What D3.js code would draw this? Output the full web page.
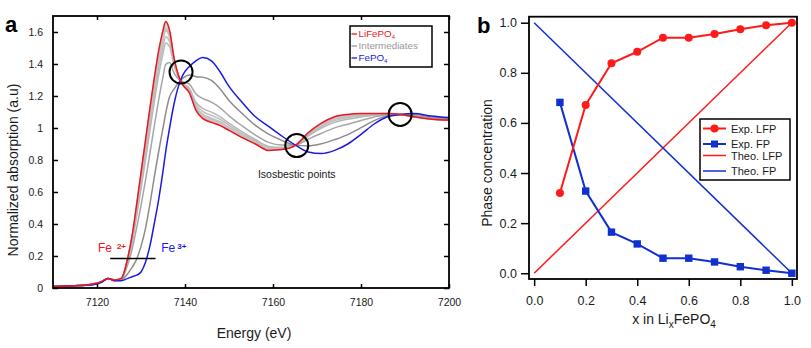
<!DOCTYPE html>
<html>
<head>
<meta charset="utf-8">
<script src="https://cdn.jsdelivr.net/npm/d3@7"></script>
<style>
  body { margin: 0; background: #fff; }
  svg { display: block; font-family: "Liberation Sans", Arial, Helvetica, sans-serif; }
</style>
</head>
<body>
<div id="chart"></div>
<script>
// ---- panel a : XANES spectra ----
const energy = [7110, 7116, 7119, 7121, 7122.5, 7124, 7125.5, 7127, 7128, 7129, 7130, 7131, 7132, 7133, 7134, 7135, 7135.6,
  7136.5, 7137.5, 7138.5, 7139.5, 7141, 7142.5, 7144, 7146, 7148, 7150, 7153, 7156, 7159, 7162, 7165, 7168, 7171, 7174,
  7177, 7180, 7183, 7186, 7189, 7192, 7196, 7200];

const lfpSpectrum = [0.01, 0.015, 0.025, 0.04, 0.06, 0.05, 0.06, 0.19, 0.33, 0.52, 0.72, 0.92, 1.12, 1.31, 1.48, 1.61, 1.665,
  1.61, 1.44, 1.33, 1.27, 1.22, 1.11, 1.06, 1.035, 1.015, 0.985, 0.94, 0.90, 0.86, 0.865, 0.89, 0.97, 1.03, 1.07,
  1.085, 1.09, 1.09, 1.09, 1.085, 1.07, 1.055, 1.05];

const fpSpectrum = [0.01, 0.015, 0.02, 0.035, 0.06, 0.045, 0.045, 0.06, 0.07, 0.08, 0.10, 0.16, 0.26, 0.40, 0.55, 0.73, 0.85,
  1.00, 1.15, 1.26, 1.33, 1.385, 1.42, 1.44, 1.42, 1.35, 1.26, 1.16, 1.07, 1.01, 0.95, 0.895, 0.85, 0.84, 0.86,
  0.90, 0.96, 1.025, 1.07, 1.085, 1.09, 1.075, 1.065];

// intermediates, from almost-LFP to almost-FP
const inter1 = [0.01, 0.015, 0.025, 0.04, 0.06, 0.05, 0.06, 0.189, 0.327, 0.516, 0.714, 0.912, 1.111, 1.301, 1.471, 1.601, 1.657,
  1.604, 1.437, 1.329, 1.271, 1.222, 1.113, 1.064, 1.039, 1.018, 0.988, 0.942, 0.902, 0.862, 0.866, 0.89, 0.969, 1.028, 1.068,
  1.083, 1.089, 1.089, 1.09, 1.085, 1.07, 1.055, 1.05];
const inter2 = [0.01, 0.015, 0.025, 0.04, 0.06, 0.05, 0.06, 0.187, 0.324, 0.509, 0.705, 0.901, 1.099, 1.287, 1.457, 1.588, 1.645,
  1.595, 1.433, 1.328, 1.272, 1.224, 1.118, 1.07, 1.045, 1.023, 0.992, 0.946, 0.904, 0.864, 0.867, 0.89, 0.967, 1.025, 1.065,
  1.08, 1.087, 1.088, 1.09, 1.085, 1.07, 1.056, 1.05];
const inter3 = [0.01, 0.015, 0.025, 0.04, 0.06, 0.05, 0.059, 0.184, 0.318, 0.50, 0.692, 0.886, 1.081, 1.269, 1.438, 1.57, 1.628,
  1.583, 1.427, 1.327, 1.273, 1.227, 1.124, 1.077, 1.052, 1.03, 0.997, 0.95, 0.908, 0.867, 0.869, 0.89, 0.965, 1.021, 1.06,
  1.077, 1.084, 1.087, 1.089, 1.085, 1.071, 1.056, 1.051];
const inter4 = [0.01, 0.015, 0.025, 0.04, 0.06, 0.05, 0.059, 0.182, 0.314, 0.494, 0.683, 0.874, 1.068, 1.255, 1.424, 1.557, 1.616,
  1.573, 1.423, 1.326, 1.274, 1.23, 1.129, 1.083, 1.058, 1.035, 1.002, 0.953, 0.91, 0.869, 0.87, 0.89, 0.963, 1.019, 1.057,
  1.074, 1.082, 1.086, 1.089, 1.085, 1.071, 1.056, 1.051];
const inter5 = [0.01, 0.015, 0.025, 0.04, 0.06, 0.05, 0.059, 0.181, 0.312, 0.489, 0.677, 0.867, 1.06, 1.246, 1.415, 1.548, 1.608,
  1.567, 1.42, 1.325, 1.274, 1.232, 1.132, 1.087, 1.062, 1.039, 1.004, 0.955, 0.912, 0.871, 0.871, 0.89, 0.962, 1.017, 1.055,
  1.072, 1.081, 1.085, 1.089, 1.085, 1.071, 1.056, 1.051];
const inter6 = [0.01, 0.015, 0.024, 0.039, 0.06, 0.049, 0.058, 0.175, 0.30, 0.469, 0.649, 0.833, 1.021, 1.205, 1.373, 1.509, 1.571,
  1.54, 1.407, 1.322, 1.277, 1.239, 1.146, 1.104, 1.079, 1.054, 1.017, 0.965, 0.92, 0.877, 0.875, 0.891, 0.956, 1.008, 1.046,
  1.064, 1.075, 1.083, 1.088, 1.085, 1.072, 1.057, 1.052];
const inter7 = [0.01, 0.015, 0.024, 0.039, 0.06, 0.049, 0.058, 0.169, 0.287, 0.447, 0.618, 0.795, 0.978, 1.16, 1.327, 1.465, 1.531,
  1.509, 1.392, 1.318, 1.28, 1.247, 1.161, 1.123, 1.099, 1.07, 1.03, 0.976, 0.928, 0.885, 0.879, 0.891, 0.95, 0.999, 1.035,
  1.055, 1.069, 1.079, 1.087, 1.085, 1.073, 1.058, 1.052];
const inter8 = [0.01, 0.015, 0.023, 0.038, 0.06, 0.048, 0.055, 0.147, 0.244, 0.375, 0.515, 0.669, 0.836, 1.01, 1.173, 1.32, 1.396,
  1.409, 1.344, 1.307, 1.29, 1.274, 1.212, 1.185, 1.162, 1.126, 1.076, 1.013, 0.956, 0.91, 0.893, 0.892, 0.93, 0.967, 1.001,
  1.024, 1.047, 1.069, 1.083, 1.085, 1.077, 1.062, 1.055];
const inter9 = [0.01, 0.015, 0.021, 0.036, 0.06, 0.046, 0.05, 0.09, 0.13, 0.18, 0.26, 0.37, 0.52, 0.69, 0.85, 1.0, 1.09,
  1.195, 1.243, 1.282, 1.311, 1.332, 1.321, 1.318, 1.297, 1.243, 1.172, 1.09, 1.016, 0.962, 0.923, 0.893, 0.888, 0.901, 0.927,
  0.959, 1.002, 1.046, 1.076, 1.085, 1.084, 1.069, 1.06];

const isosbesticE = [7139.1, 7165.4, 7188.9];
const isosbesticA = [1.35, 0.89, 1.085];
const edgeLineE = [7123, 7133.3];
const edgeLineA = 0.184;

const energyTicks = [7120, 7140, 7160, 7180, 7200];
const absTicks = [0, 0.2, 0.4, 0.6, 0.8, 1, 1.2, 1.4, 1.6];

// ---- panel b : phase concentration ----
const xLi = [0.1, 0.2, 0.3, 0.4, 0.5, 0.6, 0.7, 0.8, 0.9, 1.0];
const expLFP = [0.32, 0.672, 0.838, 0.884, 0.94, 0.94, 0.955, 0.974, 0.99, 1.0];
const expFP = [0.682, 0.328, 0.164, 0.117, 0.06, 0.06, 0.045, 0.026, 0.012, 0.0];
const theoX = [0, 1];
const theoLFP = [0, 1];
const theoFP = [1, 0];
const phaseTicks = [0, 0.2, 0.4, 0.6, 0.8, 1.0];

const RED = "#f0141e", BLUE = "#1a1ae6", BRED = "#ff1a1a", BBLUE = "#1030d0";
const INK = "#1a1a1a";

const svg = d3.select("#chart").append("svg")
  .attr("width", 811)
  .attr("height", 348);

// =========== panel a ===========
const fa = { left: 53, top: 16, right: 449, bottom: 288 };
const xa = d3.scaleLinear().domain([7110, 7200]).range([fa.left, fa.right]);
const ya = d3.scaleLinear().domain([0, 1.7]).range([fa.bottom, fa.top]);

svg.append("clipPath").attr("id", "clipA")
  .append("rect")
  .attr("x", fa.left).attr("y", fa.top)
  .attr("width", fa.right - fa.left).attr("height", fa.bottom - fa.top);

const gA = svg.append("g").attr("clip-path", "url(#clipA)");
const lineA = vals => d3.line()
  .x((d, i) => xa(energy[i]))
  .y(d => ya(d))
  .curve(d3.curveMonotoneX)(vals);

const intermediates = [
  { v: inter1, c: "#c8c8c8" }, { v: inter2, c: "#c8c8c8" }, { v: inter3, c: "#c6c6c6" },
  { v: inter4, c: "#c4c4c4" }, { v: inter5, c: "#c2c2c2" }, { v: inter6, c: "#bdbdbd" },
  { v: inter7, c: "#b8b8b8" }, { v: inter8, c: "#a6a6a6" }, { v: inter9, c: "#8c8c8c" }
];

gA.selectAll("path.inter")
  .data(intermediates)
  .enter().append("path")
  .attr("class", "inter")
  .attr("d", d => lineA(d.v))
  .attr("fill", "none")
  .attr("stroke", d => d.c)
  .attr("stroke-width", 1.5);

gA.append("path").attr("d", lineA(fpSpectrum))
  .attr("fill", "none").attr("stroke", BLUE).attr("stroke-width", 1.5);
gA.append("path").attr("d", lineA(lfpSpectrum))
  .attr("fill", "none").attr("stroke", RED).attr("stroke-width", 1.5);

// isosbestic circles
svg.selectAll("circle.iso")
  .data(isosbesticE)
  .enter().append("circle")
  .attr("class", "iso")
  .attr("cx", d => xa(d))
  .attr("cy", (d, i) => ya(isosbesticA[i]))
  .attr("r", 11.5)
  .attr("fill", "none")
  .attr("stroke", "#000")
  .attr("stroke-width", 2);

svg.append("text")
  .attr("x", xa(isosbesticE[1]))
  .attr("y", ya(0.69))
  .attr("text-anchor", "middle")
  .attr("font-size", 10.5)
  .attr("fill", INK)
  .text("Isosbestic points");

// Fe2+ / Fe3+ edge marker
svg.append("line")
  .attr("x1", xa(edgeLineE[0])).attr("x2", xa(edgeLineE[1]))
  .attr("y1", ya(edgeLineA)).attr("y2", ya(edgeLineA))
  .attr("stroke", "#000").attr("stroke-width", 1.5);

const fe2 = svg.append("text")
  .attr("x", xa(7120.2)).attr("y", ya(0.222))
  .attr("font-size", 12).attr("fill", RED);
fe2.append("tspan").text("Fe");
fe2.append("tspan").attr("dx", 5).attr("dy", -3).attr("font-size", 8).attr("font-weight", "bold").text("2+");

const fe3 = svg.append("text")
  .attr("x", xa(7134.6)).attr("y", ya(0.222))
  .attr("font-size", 12).attr("fill", BLUE);
fe3.append("tspan").text("Fe");
fe3.append("tspan").attr("dx", 2).attr("dy", -3).attr("font-size", 8).attr("font-weight", "bold").text("3+");

// frame + ticks
svg.append("rect")
  .attr("x", fa.left).attr("y", fa.top)
  .attr("width", fa.right - fa.left).attr("height", fa.bottom - fa.top)
  .attr("fill", "none").attr("stroke", "#000").attr("stroke-width", 1.8);

function styleAxis(g, size) {
  g.select(".domain").remove();
  g.selectAll(".tick line").attr("stroke", "#000").attr("stroke-width", 1.5);
  g.selectAll(".tick text").attr("fill", INK).attr("font-size", size)
    .attr("font-family", '"Liberation Sans", Arial, sans-serif');
}

svg.append("g")
  .attr("transform", `translate(0,${fa.bottom})`)
  .call(d3.axisBottom(xa).tickValues(energyTicks).tickSize(-4).tickPadding(11).tickFormat(d3.format("d")))
  .call(g => styleAxis(g, 10.5));
svg.append("g")
  .attr("transform", `translate(0,${fa.top})`)
  .call(d3.axisTop(xa).tickValues(energyTicks).tickSize(-4).tickFormat(""))
  .call(g => styleAxis(g, 10.5));
svg.append("g")
  .attr("transform", `translate(${fa.left},0)`)
  .call(d3.axisLeft(ya).tickValues(absTicks).tickSize(-5).tickPadding(10).tickFormat(d => +d.toFixed(1)))
  .call(g => styleAxis(g, 10.5));
svg.append("g")
  .attr("transform", `translate(${fa.right},0)`)
  .call(d3.axisRight(ya).tickValues(absTicks).tickSize(-5).tickFormat(""))
  .call(g => styleAxis(g, 10.5));

svg.append("text")
  .attr("transform", "translate(17.5,170) rotate(-90)")
  .attr("text-anchor", "middle")
  .attr("font-size", 14).attr("fill", INK)
  .text("Normalized absorption (a.u)");
svg.append("text")
  .attr("x", 254).attr("y", 338)
  .attr("text-anchor", "middle")
  .attr("font-size", 14).attr("fill", INK)
  .text("Energy (eV)");
svg.append("text")
  .attr("x", 5).attr("y", 32)
  .attr("font-size", 22).attr("font-weight", "bold").attr("fill", "#000")
  .text("a");

// legend a
const legA = svg.append("g");
legA.append("rect")
  .attr("x", 350).attr("y", 26).attr("width", 82).attr("height", 41)
  .attr("fill", "#fff").attr("stroke", "#000").attr("stroke-width", 1.5);
const legAItems = [
  { label: "LiFePO", sub: "4", color: RED, y: 33.5 },
  { label: "Intermediates", sub: "", color: "#999", y: 45.5 },
  { label: "FePO", sub: "4", color: BLUE, y: 57.5 }
];
legAItems.forEach(it => {
  legA.append("line")
    .attr("x1", 351.5).attr("x2", 357).attr("y1", it.y + 0.5).attr("y2", it.y + 0.5)
    .attr("stroke", it.color).attr("stroke-width", 1.3);
  const t = legA.append("text")
    .attr("x", 358.5).attr("y", it.y + 3.5)
    .attr("font-size", 9.8).attr("fill", it.color)
    .text(it.label);
  if (it.sub) t.append("tspan").attr("dy", 2).attr("font-size", 6).text(it.sub);
});

// =========== panel b ===========
const fb = { left: 529, top: 16.7, right: 797, bottom: 279 };
const xb = d3.scaleLinear().domain([-0.02, 1.02]).range([fb.left, fb.right]);
const yb = d3.scaleLinear().domain([-0.023, 1.024]).range([fb.bottom, fb.top]);

const lineB = d3.line().x(d => xb(d[0])).y(d => yb(d[1]));

svg.append("path").datum(theoX.map((x, i) => [x, theoLFP[i]]))
  .attr("d", lineB).attr("fill", "none").attr("stroke", BRED).attr("stroke-width", 1.5);
svg.append("path").datum(theoX.map((x, i) => [x, theoFP[i]]))
  .attr("d", lineB).attr("fill", "none").attr("stroke", BBLUE).attr("stroke-width", 1.5);

svg.append("path").datum(xLi.map((x, i) => [x, expFP[i]]))
  .attr("d", lineB).attr("fill", "none").attr("stroke", BBLUE).attr("stroke-width", 2);
svg.append("path").datum(xLi.map((x, i) => [x, expLFP[i]]))
  .attr("d", lineB).attr("fill", "none").attr("stroke", BRED).attr("stroke-width", 2);

svg.selectAll("rect.fp")
  .data(xLi)
  .enter().append("rect")
  .attr("class", "fp")
  .attr("x", d => xb(d) - 3.7)
  .attr("y", (d, i) => yb(expFP[i]) - 3.7)
  .attr("width", 7.4).attr("height", 7.4)
  .attr("fill", BBLUE);

svg.selectAll("circle.lfp")
  .data(xLi)
  .enter().append("circle")
  .attr("class", "lfp")
  .attr("cx", d => xb(d))
  .attr("cy", (d, i) => yb(expLFP[i]))
  .attr("r", 4)
  .attr("fill", BRED);

svg.append("rect")
  .attr("x", fb.left).attr("y", fb.top)
  .attr("width", fb.right - fb.left).attr("height", fb.bottom - fb.top)
  .attr("fill", "none").attr("stroke", "#000").attr("stroke-width", 1.8);

svg.append("g")
  .attr("transform", `translate(0,${fb.bottom})`)
  .call(d3.axisBottom(xb).tickValues(phaseTicks).tickSize(7).tickPadding(10).tickFormat(d3.format(".1f")))
  .call(g => styleAxis(g, 12.5));
svg.append("g")
  .attr("transform", `translate(${fb.left},0)`)
  .call(d3.axisLeft(yb).tickValues(phaseTicks).tickSize(8).tickPadding(4).tickFormat(d3.format(".1f")))
  .call(g => styleAxis(g, 12.5));

svg.append("text")
  .attr("transform", "translate(491.5,163) rotate(-90)")
  .attr("text-anchor", "middle")
  .attr("font-size", 14).attr("fill", INK)
  .text("Phase concentration");

const xt = svg.append("text")
  .attr("x", 674).attr("y", 324)
  .attr("text-anchor", "middle")
  .attr("font-size", 14).attr("fill", INK);
xt.append("tspan").text("x in Li");
xt.append("tspan").attr("dy", 3.5).attr("font-size", 10).text("x");
xt.append("tspan").attr("dy", -3.5).text("FePO");
xt.append("tspan").attr("dy", 3.5).attr("font-size", 10).text("4");

svg.append("text")
  .attr("x", 477).attr("y", 33)
  .attr("font-size", 22).attr("font-weight", "bold").attr("fill", "#000")
  .text("b");

// legend b
const legB = svg.append("g");
legB.append("rect")
  .attr("x", 700).attr("y", 119).attr("width", 90).attr("height", 61)
  .attr("fill", "#fff").attr("stroke", "#000").attr("stroke-width", 1.5);
const legBItems = [
  { label: "Exp. LFP", color: BRED, marker: "circle", y: 128.5, w: 2 },
  { label: "Exp. FP", color: BBLUE, marker: "square", y: 144, w: 2 },
  { label: "Theo. LFP", color: BRED, marker: null, y: 155.5, w: 1.5 },
  { label: "Theo. FP", color: BBLUE, marker: null, y: 171, w: 1.5 }
];
legBItems.forEach(it => {
  legB.append("line")
    .attr("x1", 703).attr("x2", 726).attr("y1", it.y).attr("y2", it.y)
    .attr("stroke", it.color).attr("stroke-width", it.w);
  if (it.marker === "circle") {
    legB.append("circle").attr("cx", 714.5).attr("cy", it.y).attr("r", 4).attr("fill", it.color);
  } else if (it.marker === "square") {
    legB.append("rect").attr("x", 711).attr("y", it.y - 3.5).attr("width", 7).attr("height", 7).attr("fill", it.color);
  }
  legB.append("text")
    .attr("x", 731).attr("y", it.y + 4)
    .attr("font-size", 11).attr("fill", INK)
    .text(it.label);
});
</script>
</body>
</html>
